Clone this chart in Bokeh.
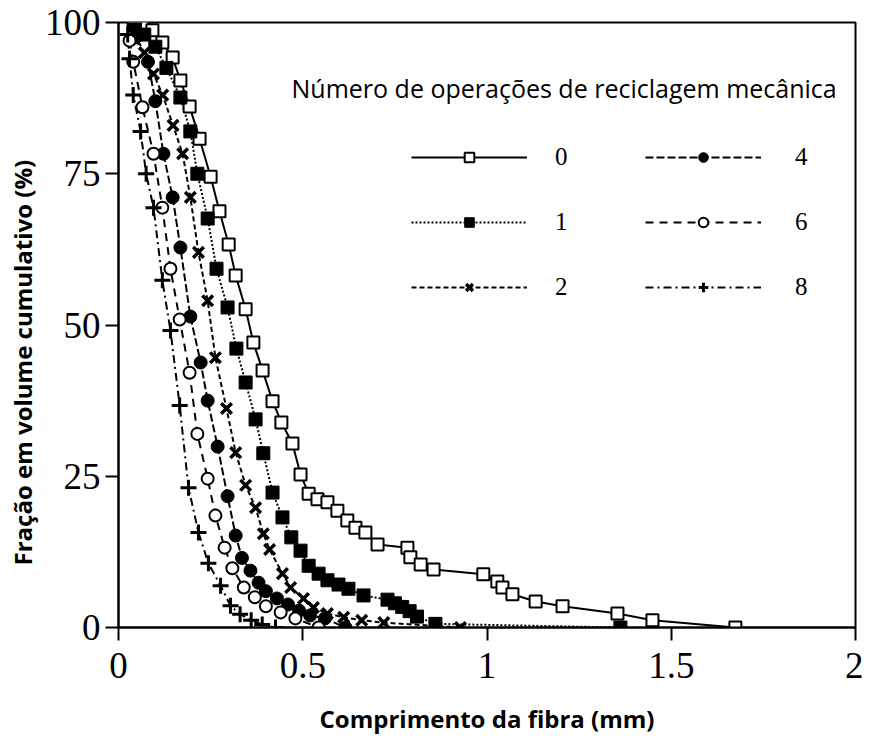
from bokeh.plotting import figure
from bokeh.models import Range1d, Legend, LegendItem, Label, FixedTicker, Title
from bokeh.embed import file_html
from bokeh.resources import INLINE

# ---- data ----
x_ticks = [0, 0.5, 1, 1.5, 2]
x_tick_labels = ["0", "0.5", "1", "1.5", "2"]
y_ticks = [0, 25, 50, 75, 100]

series_names = ["0", "1", "2", "4", "6", "8"]

x0 = [0.041, 0.065, 0.092, 0.119, 0.147, 0.168, 0.193, 0.220, 0.250, 0.274, 0.299, 0.318, 0.345,
      0.366, 0.391, 0.418, 0.442, 0.472, 0.494, 0.516, 0.540, 0.567, 0.594, 0.621, 0.643, 0.670,
      0.703, 0.784, 0.792, 0.820, 0.855, 0.990, 1.028, 1.042, 1.069, 1.132, 1.205, 1.354, 1.449, 1.674]
y0 = [99.8, 99.3, 98.7, 96.7, 94.2, 90.4, 86.1, 80.8, 74.5, 68.8, 63.3, 58.2, 52.6,
      47.1, 42.5, 37.4, 33.9, 30.4, 25.3, 22.1, 21.2, 20.7, 19.3, 17.7, 16.5, 15.7,
      13.7, 13.2, 11.6, 10.4, 9.6, 8.8, 7.6, 6.6, 5.5, 4.3, 3.5, 2.3, 1.2, 0.0]

x1 = [0.045, 0.07, 0.1, 0.13, 0.168, 0.195, 0.214, 0.242, 0.266, 0.296, 0.32, 0.345, 0.372, 0.393,
      0.418, 0.445, 0.469, 0.494, 0.516, 0.543, 0.567, 0.597, 0.624, 0.665, 0.73, 0.75, 0.77, 0.79,
      0.81, 0.86, 1.362]
y1 = [99.5, 98.0, 96.0, 92.5, 87.6, 82.0, 75.0, 67.6, 59.3, 52.9, 46.1, 40.5, 34.4, 28.8,
      22.3, 18.2, 14.9, 12.7, 10.2, 8.9, 7.8, 7.1, 6.4, 5.3, 4.6, 4.0, 3.4, 2.7,
      1.8, 0.6, 0.0]

x2 = [0.045, 0.07, 0.095, 0.12, 0.148, 0.174, 0.195, 0.217, 0.242, 0.263, 0.293, 0.318, 0.345,
      0.372, 0.393, 0.41, 0.445, 0.467, 0.502, 0.529, 0.567, 0.611, 0.66, 0.72, 0.928]
y2 = [98.0, 95.0, 91.5, 88.0, 83.0, 78.3, 71.1, 62.0, 54.0, 44.6, 36.2, 28.9, 23.5,
      19.8, 15.5, 12.9, 8.9, 6.6, 4.8, 3.3, 2.3, 1.7, 1.2, 0.8, 0.0]

x4 = [0.045, 0.08, 0.1, 0.122, 0.147, 0.168, 0.195, 0.223, 0.242, 0.269, 0.296, 0.318, 0.335,
      0.358, 0.38, 0.4, 0.43, 0.46, 0.49, 0.52, 0.56, 0.616]
y4 = [97.5, 93.5, 87.0, 78.3, 71.1, 62.8, 51.4, 43.8, 37.5, 29.9, 21.7, 15.2, 11.5,
      9.4, 7.4, 6.0, 4.8, 3.8, 2.8, 2.0, 1.5, 0.0]

x6 = [0.03, 0.04, 0.065, 0.095, 0.119, 0.141, 0.166, 0.193, 0.214, 0.242, 0.263, 0.288, 0.309,
      0.34, 0.37, 0.4, 0.44, 0.48, 0.543]
y6 = [97.0, 93.5, 86.0, 78.3, 69.4, 59.3, 50.9, 42.1, 32.0, 24.6, 18.5, 13.2, 9.8,
      6.6, 5.0, 3.5, 2.5, 1.5, 0.0]

x8 = [0.025, 0.03, 0.04, 0.06, 0.075, 0.095, 0.119, 0.141, 0.166, 0.19, 0.217, 0.244, 0.277,
      0.304, 0.33, 0.36, 0.39, 0.426]
y8 = [98.0, 94.0, 88.0, 82.0, 75.0, 69.4, 57.4, 49.1, 36.7, 23.1, 15.7, 10.6, 6.9,
      3.6, 2.2, 1.2, 0.5, 0.0]

legend_title = "Número de operações de reciclagem mecânica"
x_title = "Comprimento da fibra (mm)"
y_title = "Fração em volume cumulativo (%)"

# ---- figure ----
p = figure(width=863, height=738, output_backend="svg", toolbar_location=None,
           x_range=Range1d(0, 2), y_range=Range1d(0, 100),
           min_border_left=118, min_border_right=8, min_border_top=22, min_border_bottom=111)
p.grid.visible = False
p.outline_line_color = "black"
p.outline_line_width = 2
p.background_fill_color = "white"
p.border_fill_color = "white"

serif = "Liberation Serif"
sans = "Open Sans"

for ax in (p.xaxis[0], p.yaxis[0]):
    ax.axis_line_width = 2
    ax.axis_line_color = "black"
    ax.major_tick_line_width = 2
    ax.major_tick_line_color = "black"
    ax.major_tick_out = 13
    ax.major_tick_in = 0
    ax.minor_tick_out = 0
    ax.minor_tick_in = 0
    ax.major_label_text_font = serif
    ax.major_label_text_font_size = "37px"
    ax.major_label_text_color = "black"

p.xaxis.ticker = FixedTicker(ticks=x_ticks)
p.xaxis.major_label_overrides = {t: l for t, l in zip(x_ticks, x_tick_labels)}
p.xaxis.major_label_standoff = 12
p.xaxis.axis_label = x_title
p.xaxis.axis_label_text_font = sans
p.xaxis.axis_label_text_font_style = "bold"
p.xaxis.axis_label_text_font_size = "24px"
p.xaxis.axis_label_text_color = "black"
p.xaxis.axis_label_standoff = 21

p.yaxis.ticker = FixedTicker(ticks=y_ticks)
p.yaxis.major_label_standoff = 5

# y-axis title: a side title, started from the bottom like the reference
p.add_layout(Title(text=y_title, align="left", offset=62, vertical_align="middle",
                   text_font=sans, text_font_style="bold", text_font_size="24px",
                   text_color="black", standoff=4), "left")

# ---- series ----
styles = [
    dict(x=x0, y=y0, dash="solid", marker="square", fill="white", size=12, mlw=2),
    dict(x=x1, y=y1, dash="2 2", marker="square", fill="black", size=13, mlw=1),
    dict(x=x2, y=y2, dash="5 3", marker="x", fill="black", size=15, mlw=3.5),
    dict(x=x4, y=y4, dash="8 3", marker="circle", fill="black", size=13, mlw=1),
    dict(x=x6, y=y6, dash="8 6", marker="circle", fill="white", size=12, mlw=2),
    dict(x=x8, y=y8, dash="8 4 2 4", marker="cross", fill="black", size=16, mlw=3),
]

renderers = []
for s in styles:
    ln = p.line(s["x"], s["y"], line_color="black", line_width=2, line_dash=s["dash"])
    renderers.append([ln])
for s, r in zip(styles, renderers):
    sc = p.scatter(s["x"], s["y"], marker=s["marker"], size=s["size"],
                   fill_color=s["fill"], line_color="black", line_width=s["mlw"])
    r.append(sc)

def make_legend(idx, loc, standoff):
    items = [LegendItem(label=series_names[i], renderers=renderers[i]) for i in idx]
    lg = Legend(items=items, location=loc, orientation="vertical",
                glyph_width=116, glyph_height=24, label_height=24, label_width=10,
                label_standoff=standoff, spacing=37, padding=0, margin=0,
                border_line_color=None, background_fill_alpha=0,
                label_text_font=serif, label_text_font_size="25px", label_text_color="black")
    return lg

p.add_layout(make_legend([0, 1, 2], (293, 326), 28))
p.add_layout(make_legend([3, 4, 5], (527, 326), 34))

p.add_layout(Label(x=0.4695, y=89.1, text=legend_title, text_align="left", text_baseline="middle",
                   text_font=sans, text_font_size="25px", text_color="black"))

open("out.html", "w").write(file_html(p, INLINE))
